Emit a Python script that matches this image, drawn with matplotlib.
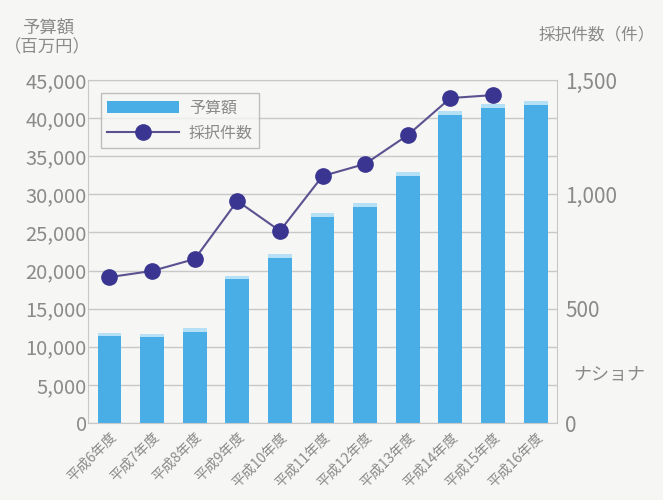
import matplotlib.pyplot as plt
import numpy as np

plt.rcParams['font.family'] = ['Noto Sans CJK JP', 'DejaVu Sans']

years = ['平成6年度', '平成7年度', '平成8年度', '平成9年度', '平成10年度', '平成11年度',
         '平成12年度', '平成13年度', '平成14年度', '平成15年度', '平成16年度']
budget = [11800, 11700, 12450, 19300, 22150, 27500, 28800, 32900, 40900, 41800, 42200]
adopted = [638, 665, 717, 971, 840, 1080, 1133, 1259, 1421, 1434]

bar_color = '#4aaee6'
cap_color = '#b5e0f5'
line_color = '#5a5290'
marker_color = '#3a3590'
text_color = '#8a8a8a'

fig = plt.figure(figsize=(6.63, 5.0), dpi=100)
fig.patch.set_facecolor('#f6f6f4')
ax = fig.add_axes([0.133, 0.154, 0.707, 0.686])
ax.set_facecolor('#f6f6f4')

x = np.arange(len(years))
bars = ax.bar(x, budget, width=0.56, color=bar_color, zorder=2, label='予算額')
ax.bar(x, [450] * len(budget), bottom=np.array(budget) - 450, width=0.56,
       color=cap_color, zorder=2)

ax.set_xlim(-0.5, len(years) - 0.5)
ax.set_ylim(0, 45000)
ax.set_yticks(np.arange(0, 45001, 5000))
ax.set_yticklabels(['{:,}'.format(v) for v in range(0, 45001, 5000)])
ax.yaxis.grid(True, color='#c8c8c8', linewidth=1.0, zorder=0)
ax.set_axisbelow(True)
ax.tick_params(axis='y', length=0, labelsize=14.5, labelcolor=text_color, pad=1)
ax.set_xticks(x)
ax.set_xticklabels(years, rotation=45, ha='right', rotation_mode='anchor',
                   fontsize=10, color=text_color)
ax.tick_params(axis='x', length=0, pad=5)
for s in ax.spines.values():
    s.set_color('#c8c8c8')

ax2 = ax.twinx()
ln, = ax2.plot(x[:len(adopted)], adopted, color=line_color, linewidth=1.5,
               marker='o', markersize=11, markerfacecolor=marker_color,
               markeredgecolor=marker_color, zorder=3, label='採択件数')
ax2.set_ylim(0, 1500)
ax2.set_yticks([0, 500, 1000, 1500])
ax2.set_yticklabels(['0', '500', '1,000', '1,500'])
ax2.tick_params(axis='y', length=0, labelsize=15, labelcolor=text_color, pad=6)
for s in ax2.spines.values():
    s.set_visible(False)

leg = ax.legend([bars, ln], ['予算額', '採択件数'], loc='upper left',
                bbox_to_anchor=(0.01, 0.985), fontsize=11.5, frameon=True,
                fancybox=False, edgecolor='#b0b0b0', handlelength=4.5,
                labelcolor=text_color, borderpad=0.4, handletextpad=0.6)
leg.get_frame().set_facecolor('#f6f6f4')
leg.set_zorder(5)

fig.text(0.072, 0.925, '予算額\n（百万円）', ha='center', va='center', fontsize=12.5,
         color=text_color, linespacing=1.15)
fig.text(0.812, 0.93, '採択件数（件）', ha='left', va='center', fontsize=12,
         color=text_color)
fig.text(0.865, 0.25, 'ナショナ', ha='left', va='center', fontsize=13,
         color=text_color)

fig.savefig('out.png', dpi=100, facecolor=fig.get_facecolor())
